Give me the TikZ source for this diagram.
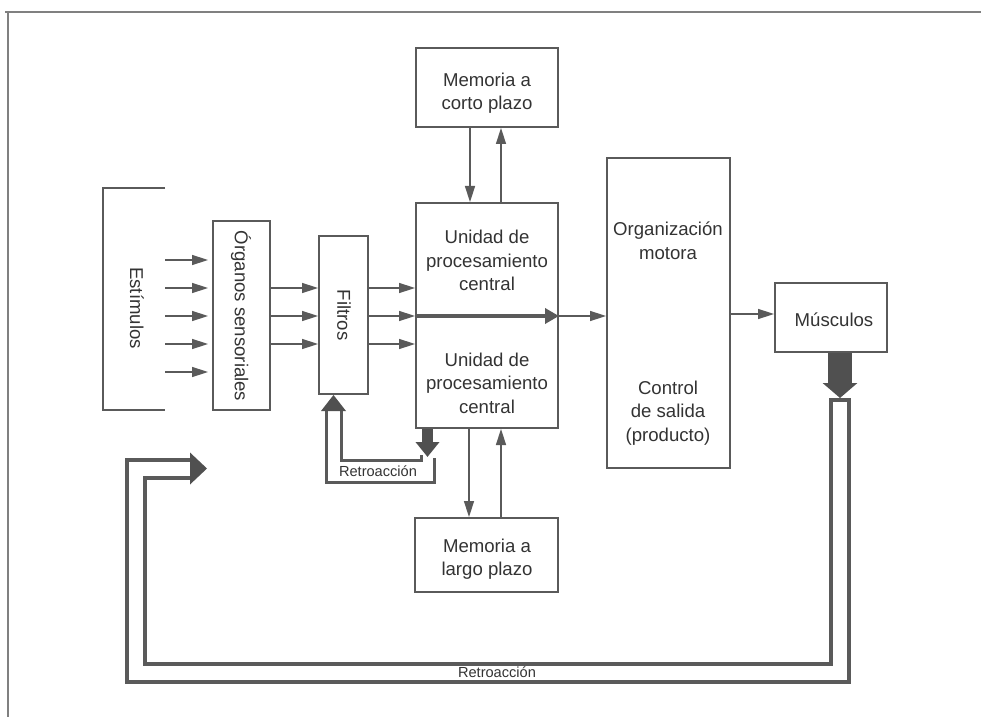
\documentclass[tikz,border=0pt]{standalone}
\usepackage{fontspec}
\setmainfont{Liberation Sans}
\usetikzlibrary{arrows.meta,calc}
\definecolor{linegray}{HTML}{5A5A5A}
\definecolor{fatgray}{HTML}{505050}
\definecolor{rimgray}{HTML}{808080}
\definecolor{textgray}{HTML}{333333}

\begin{document}
\begin{tikzpicture}[x=0.5pt,y=-0.5pt,
    box/.style={draw=linegray, line width=1pt, inner sep=0pt},
    txt/.style={text=textgray, align=center, font=\fontsize{9.3}{11.8}\selectfont},
    lbl/.style={text=textgray, inner sep=0pt, font=\fontsize{7.3}{9}\selectfont},
    flow/.style={draw=linegray, line width=0.75pt, -{Triangle[length=8pt,width=5pt]}},
    fat/.style={draw=fatgray, -{Triangle[length=7.5pt,width=17pt]}},
    rim/.style={draw=rimgray, line width=0.75pt}]
    \useasboundingbox (0,0) rectangle (981,717);

    % page frame
    \draw[rim] (5,12) -- (981,12);
    \draw[rim] (8,12) -- (8,717);

    % boxes
    \node[box, minimum width=71pt, minimum height=39.5pt] (corto) at (487,87.5) {};
    \node[txt] at (487,93) {Memoria a\\corto plazo};
    \node[box, minimum width=71pt, minimum height=112.5pt] (cpu) at (487,315.5) {};
    \node[txt] at (487,260.5) {Unidad de\\procesamiento\\central};
    \node[txt] at (487,383) {Unidad de\\procesamiento\\central};
    \node[box, minimum width=71.5pt, minimum height=37pt] (largo) at (486.5,555) {};
    \node[txt] at (487,559) {Memoria a\\largo plazo};
    \node[box, minimum width=28.5pt, minimum height=94.5pt] (organos) at (241.5,315.5) {};
    \node[txt, rotate=-90] at (241,316) {Órganos sensoriales};
    \node[box, minimum width=24.5pt, minimum height=79pt] (filtros) at (343.5,315) {};
    \node[txt, rotate=-90] at (344,315) {Filtros};
    \node[box, minimum width=61.5pt, minimum height=155pt] (organiz) at (668.5,313) {};
    \node[txt] at (668,241) {Organización\\motora};
    \node[txt] at (668,413) {Control\\de salida\\(producto)};
    \node[box, minimum width=56pt, minimum height=34.5pt] (musc) at (831,317.5) {};
    \node[txt] at (834,320) {Músculos};

    % stimuli bracket
    \draw[box] (165,188) -- (103,188) -- (103,410) -- (165,410);
    \node[txt, rotate=-90] (estim) at (137,308) {Estímulos};

    % forward arrows
    \foreach \y in {260,288,316,344,372} {
        \coordinate (s) at (165,\y);
        \draw[flow, shorten >=2pt] (s) -- (organos.west |- s);
    }
    \foreach \y in {288,316,344} {
        \coordinate (h) at (0,\y);
        \draw[flow] (organos.east |- h) -- (filtros.west |- h);
        \draw[flow] (filtros.east |- h) -- (cpu.west |- h);
    }
    \coordinate (mid) at (0,316);
    \draw[draw=linegray, line width=2pt, -{Triangle[length=7pt,width=7.5pt]}] (cpu.west |- mid) -- (cpu.east |- mid);
    \draw[flow] (cpu.east |- mid) -- (organiz.west |- mid);
    \coordinate (om) at (0,314);
    \draw[flow] (organiz.east |- om) -- (musc.west |- om);

    % memory arrows
    \coordinate (m1) at (470,0);
    \coordinate (m2) at (501,0);
    \draw[flow] (corto.south -| m1) -- (cpu.north -| m1);
    \draw[flow] (cpu.north -| m2) -- (corto.south -| m2);
    \coordinate (m3) at (469,0);
    \coordinate (m4) at (501,0);
    \draw[flow] (cpu.south -| m3) -- (largo.north -| m3);
    \draw[flow] (largo.north -| m4) -- (cpu.south -| m4);

    % big feedback
    \coordinate (mx) at (840,0);
    \coordinate (mtip) at (840,398);
    \draw[fat, line width=12pt] (musc.south -| mx) -- (mtip);
    \coordinate (ctop) at (840,400);
    \coordinate (cend) at (190,468.5);
    \draw[draw=linegray, line width=2pt, double=white, double distance=7pt]
        (ctop) -- (840,672.5) -- (135.5,672.5) -- (135.5,468.5) -- (cend);
    \draw[draw=linegray, line width=2pt] ($(ctop)+(-11,0)$) -- ($(ctop)+(11,0)$);
    \fill[fatgray] ($(cend)+(0,-16)$) -- ($(cend)+(17,0)$) -- ($(cend)+(0,16)$) -- cycle;
    \node[lbl] (retro2) at (497,672.5) {Retroacción};

    % small feedback
    \coordinate (fx) at (333.5,0);
    \coordinate (fbase) at (333.5,411);
    \draw[draw=linegray, line width=1.5pt] ($(fbase)+(7.5,0)$) -- ++(0,49) -- ++(80,0) -- ++(0,-5);
    \draw[draw=linegray, line width=1.5pt] ($(fbase)+(-7,0)$) -- ++(0,71) -- ++(108,0) -- ++(0,-24);
    \fill[fatgray] (filtros.south -| fx) -- ++(12.5,16) -- ++(-25,0) -- cycle;
    \coordinate (cx) at (427.5,0);
    \coordinate (ctip) at (427.5,457);
    \draw[draw=fatgray, line width=5.5pt, -{Triangle[length=7.5pt,width=11.5pt]}] (cpu.south -| cx) -- (ctip);
    \node[lbl] (retro1) at (378,471) {Retroacción};
\end{tikzpicture}
\end{document}
